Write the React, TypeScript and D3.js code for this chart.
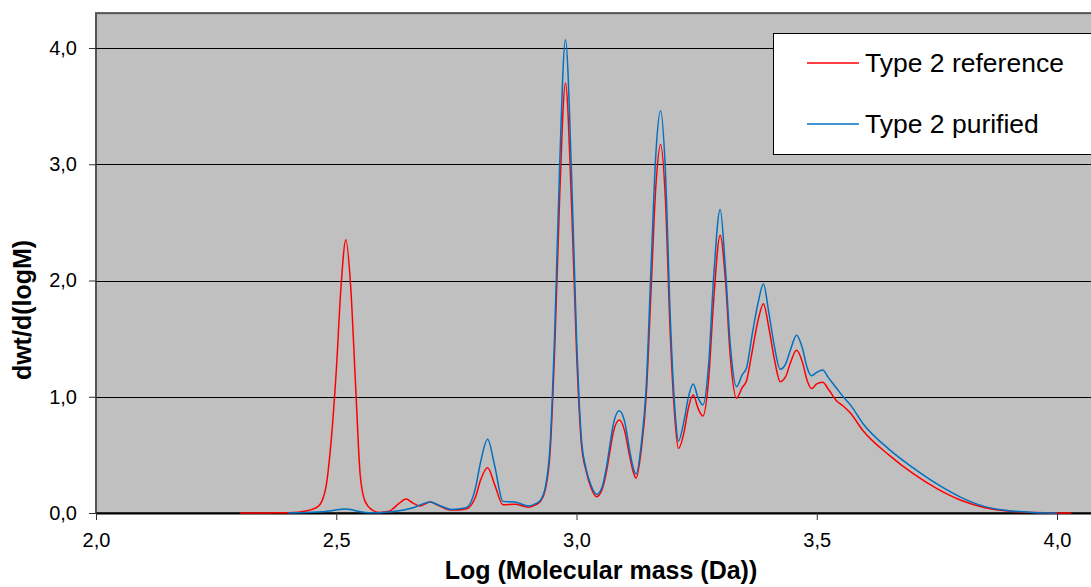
import React, { useEffect, useRef } from 'react';
import * as d3 from 'd3';

// log M sampling points (shared by both curves)
const logM = [
  2.30, 2.40, 2.44, 2.46, 2.47, 2.48, 2.49, 2.50, 2.51, 2.52, 2.53, 2.54, 2.55, 2.56, 2.575,
  2.59, 2.61, 2.63, 2.645, 2.66, 2.675, 2.695, 2.715, 2.74, 2.77, 2.79, 2.80, 2.815, 2.83,
  2.847, 2.872, 2.90, 2.915, 2.925, 2.935, 2.945, 2.955, 2.965, 2.977, 2.99, 3.0, 3.01, 3.02,
  3.03, 3.042, 3.053, 3.063, 3.07, 3.077, 3.089, 3.10, 3.111, 3.118, 3.124, 3.135, 3.145,
  3.155, 3.165, 3.175, 3.185, 3.195, 3.205, 3.212, 3.225, 3.232, 3.243, 3.253, 3.263, 3.275,
  3.285, 3.299, 3.31, 3.32, 3.333, 3.345, 3.354, 3.365, 3.378, 3.389, 3.40, 3.412, 3.424,
  3.435, 3.445, 3.458, 3.47, 3.48, 3.489, 3.50, 3.512, 3.525, 3.54, 3.555, 3.57, 3.596, 3.65,
  3.70, 3.75, 3.80, 3.85, 3.90, 3.95, 4.00, 4.03,
];

// Type 2 reference
const referenceValues = [
  0, 0.003, 0.02, 0.05, 0.1, 0.26, 0.65, 1.22, 1.95, 2.35, 1.95, 1.12, 0.32, 0.1, 0.025,
  0.005, 0.015, 0.08, 0.12, 0.085, 0.06, 0.095, 0.06, 0.025, 0.035, 0.14, 0.28, 0.39, 0.24,
  0.07, 0.075, 0.05, 0.07, 0.1, 0.2, 0.52, 1.45, 2.72, 3.70, 2.62, 1.4, 0.6, 0.36,
  0.22, 0.14, 0.2, 0.37, 0.54, 0.70, 0.80, 0.71, 0.48, 0.355, 0.30, 0.55, 1.0,
  1.9, 2.8, 3.17, 2.7, 1.55, 0.8, 0.556, 0.72, 0.886, 1.015, 0.9, 0.834, 1.15,
  1.8, 2.39, 2.0, 1.35, 0.987, 1.08, 1.14, 1.375, 1.66, 1.80, 1.60, 1.32, 1.13,
  1.17, 1.29, 1.40, 1.30, 1.14, 1.07, 1.11, 1.124, 1.06, 0.97, 0.92, 0.86, 0.71, 0.50,
  0.34, 0.21, 0.11, 0.046, 0.017, 0.004, 0.0, 0,
];

// Type 2 purified
const purifiedValues = [
  null, 0.002, 0.005, 0.008, 0.01, 0.015, 0.02, 0.027, 0.033, 0.035, 0.03, 0.02, 0.01, 0.005, 0.002,
  0.003, 0.008, 0.02, 0.03, 0.045, 0.07, 0.095, 0.065, 0.03, 0.045, 0.22, 0.43, 0.634, 0.40,
  0.1, 0.095, 0.06, 0.08, 0.11, 0.22, 0.58, 1.6, 3.0, 4.07, 2.88, 1.52, 0.65, 0.38,
  0.24, 0.16, 0.22, 0.41, 0.60, 0.77, 0.88, 0.79, 0.53, 0.39, 0.335, 0.6, 1.08,
  2.1, 3.08, 3.46, 2.95, 1.7, 0.88, 0.62, 0.82, 0.98, 1.11, 0.99, 0.93, 1.28,
  2.0, 2.61, 2.1, 1.45, 1.087, 1.19, 1.25, 1.52, 1.81, 1.97, 1.73, 1.43, 1.236,
  1.28, 1.40, 1.53, 1.42, 1.25, 1.18, 1.21, 1.23, 1.16, 1.08, 1.0, 0.93, 0.77, 0.55,
  0.39, 0.25, 0.135, 0.055, 0.02, 0.005, 0.0, null,
];

const xTicks = [2.0, 2.5, 3.0, 3.5, 4.0];
const yTicks = [0, 1, 2, 3, 4];

const series = [
  { name: 'Type 2 reference', values: referenceValues, color: '#ff0000' },
  { name: 'Type 2 purified', values: purifiedValues, color: '#0070c0' },
];

const fmt = (d: number) => d.toFixed(1).replace('.', ',');

export default function App() {
  const ref = useRef<SVGSVGElement>(null);

  useEffect(() => {
    const svg = d3.select(ref.current);
    svg.selectAll('*').remove();

    const left = 96, bottom = 513, right = 1100;
    const x = d3.scaleLinear().domain([2.0, 4.0]).range([left, 1057]);
    const y = d3.scaleLinear().domain([0, 4.3]).range([bottom, bottom - 4.3 * 116.25]);
    const font = '"Liberation Sans", Arial, sans-serif';

    // plot area
    svg.append('rect')
      .attr('x', left).attr('y', y(4.3))
      .attr('width', right - left).attr('height', bottom - y(4.3))
      .attr('fill', '#c0c0c0')
      .attr('stroke', '#555').attr('stroke-width', 2);

    // grid
    svg.append('g')
      .selectAll('line')
      .data(yTicks.slice(1))
      .enter().append('line')
      .attr('x1', left).attr('x2', right)
      .attr('y1', d => Math.round(y(d)) + 0.5).attr('y2', d => Math.round(y(d)) + 0.5)
      .attr('stroke', '#000');

    // y axis
    const yAxis = svg.append('g')
      .attr('transform', `translate(${left},0)`)
      .call(d3.axisLeft(y).tickValues(yTicks).tickSize(7).tickPadding(12).tickFormat(fmt as any));
    yAxis.select('.domain').remove();
    yAxis.selectAll('text').attr('font-size', 20).attr('font-family', font).attr('fill', '#000');
    yAxis.selectAll('line').attr('stroke', '#333');

    // x axis
    const xAxis = svg.append('g')
      .attr('transform', `translate(0,${bottom})`)
      .call(d3.axisBottom(x).tickValues(xTicks).tickSize(7).tickFormat(fmt as any));
    xAxis.select('.domain').attr('d', `M${left},0.5H${right}`).attr('stroke', '#000').attr('stroke-width', 2);
    xAxis.selectAll('text')
      .attr('y', 34).attr('dy', null)
      .attr('font-size', 20).attr('font-family', font).attr('fill', '#000');
    xAxis.selectAll('line').attr('stroke', '#333');

    // curves
    const pts = (vals: (number | null)[]) => logM.map((m, i) => [m, vals[i]] as [number, number | null]);
    const line = d3.line<[number, number | null]>()
      .defined(d => d[1] !== null)
      .x(d => x(d[0]))
      .y(d => y(d[1] as number))
      .curve(d3.curveMonotoneX);

    series.forEach(s => {
      svg.append('path')
        .attr('d', line(pts(s.values)))
        .attr('fill', 'none')
        .attr('stroke', s.color)
        .attr('stroke-width', 1.5);
    });

    // legend
    const lg = svg.append('g');
    lg.append('rect')
      .attr('x', 773.5).attr('y', 33.5).attr('width', 330).attr('height', 121)
      .attr('fill', '#fff').attr('stroke', '#000');
    series.forEach((s, i) => {
      const ly = 63 + i * 61;
      lg.append('line')
        .attr('x1', 807).attr('x2', 859).attr('y1', ly).attr('y2', ly)
        .attr('stroke', s.color).attr('stroke-width', 1.5);
      lg.append('text')
        .attr('x', 865).attr('y', ly + 9)
        .attr('font-size', 26.5).attr('font-family', font)
        .text(s.name);
    });

    // axis titles
    svg.append('text')
      .attr('x', 601).attr('y', 579)
      .attr('text-anchor', 'middle')
      .attr('font-size', 25).attr('font-weight', 'bold').attr('font-family', font)
      .text('Log (Molecular mass (Da))');

    svg.append('text')
      .attr('transform', 'translate(31,310) rotate(-90)')
      .attr('text-anchor', 'middle')
      .attr('font-size', 25).attr('font-weight', 'bold').attr('font-family', font)
      .text('dwt/d(logM)');
  }, []);

  return (
    <svg
      ref={ref}
      width={1091}
      height={587}
      style={{ position: 'absolute', left: 0, top: 0, background: '#fff' }}
    />
  );
}
